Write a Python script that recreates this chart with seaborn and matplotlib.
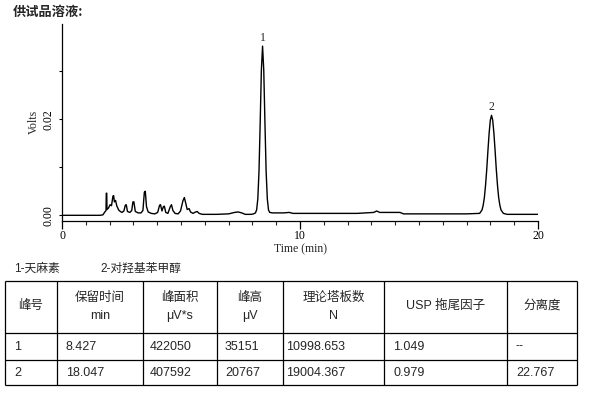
import seaborn as sns
import matplotlib.pyplot as plt
from matplotlib.ticker import MultipleLocator

# chromatogram trace (time min, signal V)
time_min = [0.00, 1.60, 1.72, 1.80, 1.85, 1.86, 1.88, 1.89, 1.95, 2.02, 2.08, 2.14, 2.17,
            2.20, 2.25, 2.30, 2.38, 2.45, 2.52, 2.60, 2.66, 2.70, 2.75, 2.85, 2.93, 2.98,
            3.02, 3.08, 3.20, 3.32, 3.40, 3.46, 3.50, 3.55, 3.62, 3.75, 3.90, 4.02, 4.10,
            4.14, 4.20, 4.26, 4.30, 4.36, 4.45, 4.55, 4.60, 4.66, 4.75, 4.88, 4.98, 5.08,
            5.14, 5.20, 5.26, 5.34, 5.40, 5.50, 5.62, 5.68, 5.76, 5.90, 6.50, 7.00, 7.25,
            7.40, 7.55, 7.70, 7.95, 8.05, 8.127, 8.177, 8.227, 8.277, 8.327, 8.377, 8.427,
            8.477, 8.527, 8.577, 8.627, 8.677, 8.727, 8.85, 9.30, 9.55, 9.70, 10.50, 11.50,
            12.40, 13.10, 13.22, 13.35, 13.80, 14.20, 14.35, 17.00, 17.547, 17.647, 17.697,
            17.747, 17.797, 17.847, 17.897, 17.947, 17.997, 18.047, 18.097, 18.147, 18.197,
            18.247, 18.297, 18.347, 18.397, 18.447, 18.547, 18.70, 20.00]
volts = [0.0, 0.0, 0.0001, 0.0007, 0.0010, 0.0046, 0.0046, 0.0012, 0.0015, 0.0022, 0.0020,
         0.0040, 0.0041, 0.0028, 0.0031, 0.0020, 0.0011, 0.0008, 0.0006, 0.0009, 0.0021,
         0.0022, 0.0008, 0.0006, 0.0010, 0.0028, 0.0028, 0.0008, 0.0005, 0.0005, 0.0010,
         0.0048, 0.0050, 0.0018, 0.0007, 0.0004, 0.0003, 0.0006, 0.0021, 0.0022, 0.0009,
         0.0018, 0.0019, 0.0006, 0.0004, 0.0018, 0.0022, 0.0010, 0.0004, 0.0003, 0.0009,
         0.0030, 0.0037, 0.0025, 0.0012, 0.0014, 0.0007, 0.0004, 0.0007, 0.0008, 0.0004,
         0.0002, 0.0002, 0.0003, 0.0006, 0.0007, 0.0005, 0.0002, 0.0002, 0.0003, 0.0005,
         0.0011, 0.0034, 0.0091, 0.0192, 0.0302, 0.0352, 0.0302, 0.0192, 0.0091, 0.0034,
         0.0011, 0.0006, 0.0005, 0.0005, 0.0006, 0.0004, 0.0004, 0.0004, 0.0004, 0.0006,
         0.0009, 0.0006, 0.0006, 0.0006, 0.0003, 0.0003, 0.0004, 0.0011, 0.0021, 0.0037,
         0.0063, 0.0096, 0.0135, 0.0171, 0.0198, 0.0208, 0.0198, 0.0171, 0.0135, 0.0096,
         0.0063, 0.0037, 0.0021, 0.0011, 0.0004, 0.0002, 0.0002]

peak_ids = ['1', '2']
peak_rt = [8.427, 18.047]
peak_height_uv = [35151, 20767]

title = '供试品溶液:'
legend_text = ['1-天麻素', '2-对羟基苯甲醇']

col_head = [['峰号'], ['保留时间', 'min'], ['峰面积', 'μV*s'], ['峰高', 'μV'],
            ['理论塔板数', 'N'], ['USP 拖尾因子'], ['分离度']]
rows = [['1', '8.427', '422050', '35151', '10998.653', '1.049', '--'],
        ['2', '18.047', '407592', '20767', '19004.367', '0.979', '22.767']]

sns.set_style('ticks')
plt.rcParams['font.family'] = ['Liberation Serif', 'DejaVu Serif']
cjk = ['Liberation Sans', 'Noto Sans CJK SC']

fig = plt.figure(figsize=(5.93, 3.95), dpi=100)
W, H = 593, 395

# chromatogram
ax = fig.add_axes([62 / W, 1 - 220.5 / H, 476 / W, 196.5 / H])
sns.lineplot(x=time_min, y=volts, ax=ax, color='black', lw=1.0, estimator=None)
ax.set_xlim(0, 20)
ax.set_ylim(-0.00108, 0.0398)
sns.despine(ax=ax)
for s in ['left', 'bottom']:
    ax.spines[s].set_linewidth(0.9)
    ax.spines[s].set_color('black')

ax.xaxis.set_major_locator(MultipleLocator(10))
ax.xaxis.set_minor_locator(MultipleLocator(1))
ax.yaxis.set_major_locator(MultipleLocator(0.02))
ax.yaxis.set_minor_locator(MultipleLocator(0.01))
ax.set_yticks([0.0, 0.02])
ax.set_yticklabels(['0.00', '0.02'], rotation=90, va='center')
ax.tick_params(axis='x', which='major', length=6, width=0.9, pad=1, labelsize=8.5, colors='black')
ax.tick_params(axis='x', which='minor', length=3, width=0.8)
ax.tick_params(axis='y', which='both', length=2.5, width=0.8, pad=3, labelsize=8.5, colors='black')
ax.set_xlabel('Time (min)', fontsize=8.5, labelpad=1)
ax.set_ylabel('Volts', fontsize=8.5, labelpad=2)

for pid, rt, h in zip(peak_ids, peak_rt, peak_height_uv):
    ax.annotate(pid, (rt, h / 1e6), xytext=(0, 2), textcoords='offset points',
                ha='center', va='bottom', fontsize=8.5)

fig.text(13 / W, 1 - 12 / H, title, family=['Noto Sans CJK SC', 'DejaVu Sans'],
         fontsize=9.5, weight='bold', va='center', ha='left')

# table area in pixel units
tab = fig.add_axes([0, 0, 1, 1])
tab.set_xlim(0, W)
tab.set_ylim(H, 0)
tab.axis('off')
tab.patch.set_alpha(0)

tab.text(14, 269, legend_text[0], family=cjk, fontsize=8.5, va='center')
tab.text(100, 269, legend_text[1], family=cjk, fontsize=8.5, va='center')

col_x = [5, 57, 143, 217, 283, 384, 507, 577]
row_y = [281, 333, 360, 385]
tab.hlines(row_y, col_x[0], col_x[-1], color='black', lw=0.9)
tab.vlines(col_x, row_y[0], row_y[-1], color='black', lw=0.9)

for i, head in enumerate(col_head):
    cx = (col_x[i] + col_x[i + 1]) / 2
    if len(head) == 1:
        tab.text(cx, 306, head[0], family=cjk, fontsize=9, ha='center', va='center')
    else:
        tab.text(cx, 298, head[0], family=cjk, fontsize=9, ha='center', va='center')
        tab.text(cx, 316, head[1], family=cjk, fontsize=9, ha='center', va='center')

pads = [9, 9, 7, 8, 3, 9, 9]
for r, row in enumerate(rows):
    cy = (row_y[r + 1] + row_y[r + 2]) / 2
    for i, val in enumerate(row):
        tab.text(col_x[i] + pads[i], cy, val, family=cjk, fontsize=9, ha='left', va='center')

fig.savefig('out.png', dpi=100)
